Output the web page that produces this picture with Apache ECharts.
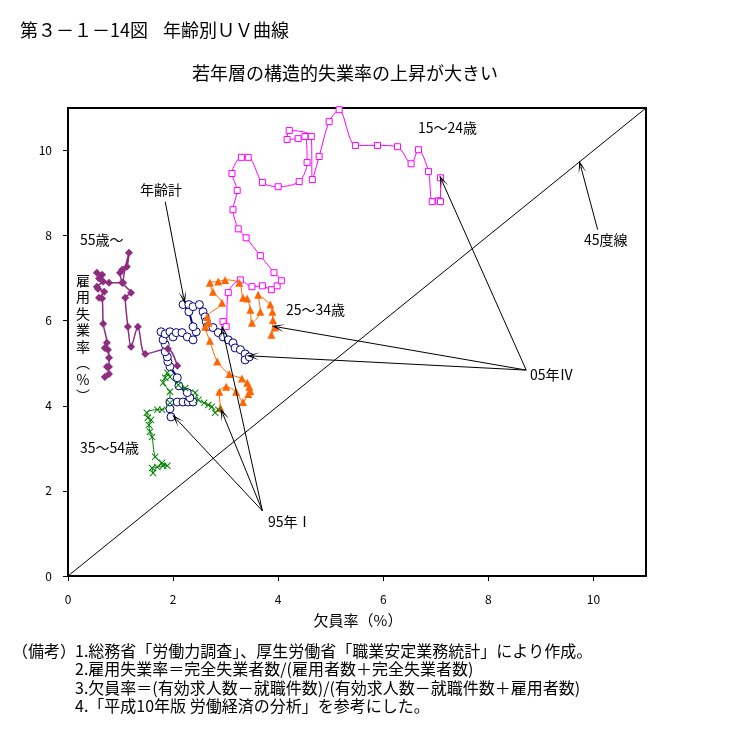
<!DOCTYPE html>
<html><head><meta charset="utf-8">
<script src="https://cdn.jsdelivr.net/npm/echarts/dist/echarts.min.js"></script>
<style>html,body{margin:0;padding:0;background:#fff}#c{width:734px;height:740px}</style>
</head><body><div id="c"></div>
<script>
// ---- data (x = 欠員率 %, y = 雇用失業率 %) ----
const axisTicks = [0, 2, 4, 6, 8, 10];
const line45 = [[0, 0], [11, 11]];
const total = [[1.96,3.74],[1.94,3.93],[1.94,4.09],[2.08,4.09],[2.19,4.09],[2.29,4.09],[2.38,4.09],[2.32,4.19],[2.27,4.31],[2.11,4.47],[2.08,4.66],[1.94,4.92],[1.90,5.04],[1.89,5.15],[1.85,5.27],[1.85,5.44],[1.81,5.55],[1.77,5.74],[1.85,5.69],[1.94,5.74],[2.00,5.62],[2.06,5.72],[2.17,5.72],[2.27,5.62],[2.38,5.55],[2.44,5.74],[2.38,5.86],[2.30,6.21],[2.19,6.38],[2.30,6.38],[2.38,6.33],[2.50,6.38],[2.57,6.21],[2.61,6.09],[2.63,5.98],[2.65,5.86],[2.76,5.84],[2.86,5.72],[2.95,5.62],[3.05,5.55],[3.14,5.48],[3.18,5.36],[3.28,5.32],[3.37,5.22],[3.37,5.08],[3.45,5.15]];
const age15_24 = [[2.95,5.98],[3.01,5.86],[3.05,6.66],[3.28,6.96],[3.50,6.80],[3.70,6.82],[3.87,6.73],[3.98,6.82],[4.06,6.94],[3.92,7.13],[3.66,7.53],[3.39,7.95],[3.24,8.16],[3.14,8.61],[3.22,9.06],[3.12,9.46],[3.30,9.84],[3.43,9.84],[3.70,9.25],[4.00,9.15],[4.40,9.27],[4.55,9.72],[4.51,10.33],[4.38,10.28],[4.17,10.26],[4.21,10.47],[4.63,10.33],[4.65,9.32],[4.78,9.86],[4.97,10.68],[5.16,10.96],[5.47,10.12],[5.89,10.12],[6.27,10.09],[6.53,9.69],[6.67,10.02],[6.86,9.51],[6.93,8.80],[7.05,8.82],[7.09,8.80],[7.09,9.36]];
const age25_34 = [[2.90,3.95],[2.88,4.33],[3.01,4.45],[3.20,4.33],[3.33,4.09],[3.43,4.28],[3.47,4.35],[3.45,4.45],[3.41,4.54],[3.31,4.64],[3.07,4.75],[2.84,5.04],[2.70,5.53],[2.61,5.86],[2.67,5.95],[2.65,6.09],[2.93,6.42],[2.76,6.68],[2.70,6.89],[2.86,6.92],[2.99,6.96],[3.26,6.89],[3.33,6.54],[3.41,6.52],[3.47,6.26],[3.50,5.95],[3.66,6.21],[3.62,6.61],[3.85,6.38],[3.89,6.21],[3.90,6.02],[3.87,5.67],[3.94,5.84]];
const age35_54 = [[1.62,2.42],[1.60,2.54],[1.70,2.56],[1.81,2.59],[1.89,2.59],[1.79,2.66],[1.66,2.80],[1.60,3.27],[1.56,3.39],[1.54,3.55],[1.58,3.67],[1.52,3.72],[1.50,3.84],[1.70,3.91],[1.79,3.91],[1.94,4.07],[1.94,4.33],[1.81,4.54],[1.85,4.66],[1.89,4.78],[1.94,4.68],[2.10,4.49],[2.23,4.42],[2.42,4.31],[2.48,4.14],[2.59,4.07],[2.67,4.02],[2.74,3.98],[2.80,3.84],[2.86,3.91]];
const age55 = [[0.70,4.68],[0.78,4.75],[0.74,4.92],[0.78,4.92],[0.78,5.13],[0.76,5.32],[0.70,5.36],[0.74,5.48],[0.67,5.93],[0.65,6.52],[0.59,6.54],[0.69,6.68],[0.57,6.75],[0.55,6.80],[0.67,6.92],[0.59,6.99],[0.65,7.08],[0.55,7.13],[0.78,6.89],[1.03,6.89],[0.99,7.13],[1.03,7.20],[1.12,7.27],[1.16,7.60],[1.05,6.89],[1.20,6.66],[1.09,6.54],[1.14,5.86],[1.20,5.39],[1.33,5.86],[1.47,5.22],[1.90,5.34],[2.08,4.94]];
// annotation arrows [from, to] in data units
const arrows = [
  [[10.08,8.14],[9.76,9.62]],
  [[1.85,8.80],[2.20,6.55]],
  [[8.72,4.84],[7.12,9.28]],
  [[8.72,4.84],[4.00,5.85]],
  [[8.72,4.84],[3.52,5.17]],
  [[3.70,1.53],[2.07,3.68]],
  [[3.70,1.53],[2.95,3.80]],
  [[3.70,1.53],[2.95,5.75]]
];

const FONT = '"Noto Sans CJK JP","Noto Sans",sans-serif';
const crossPath = 'path://M1,0 L5,4 L9,0 L10,1 L6,5 L10,9 L9,10 L5,6 L1,10 L0,9 L4,5 L0,1 Z';
const arrowPath = 'path://M5,0 L10,13 L5,5 L0,13 Z';

function curve(name, data, color, symbol, size, lw, hollow, bw) {
  return {
    name, type: 'line', data, smooth: 0.3, symbol, symbolSize: size,
    showAllSymbol: true, clip: false,
    lineStyle: { color, width: lw },
    itemStyle: hollow ? { color: '#fff', borderColor: color, borderWidth: bw || 1 } : { color, borderWidth: 0 },
    emphasis: { disabled: true }, z: 3
  };
}

const chart = echarts.init(document.getElementById('c'), null, { renderer: 'canvas' });
const axisCommon = {
  type: 'value', min: 0, max: 11, interval: 2,
  axisLine: { show: true, lineStyle: { color: '#000', width: 2 } },
  axisTick: { show: true, length: 5, inside: false, lineStyle: { color: '#000', width: 1 } },
  splitLine: { show: false },
  axisLabel: { color: '#000', fontSize: 12, fontFamily: FONT, showMaxLabel: false,
    formatter: v => axisTicks.includes(v) ? String(v) : '' }
};
function txt(text, x, y, size, align, extra) {
  return Object.assign({ type: 'text', x, y, silent: true,
    style: { text, fill: '#000', font: size + 'px ' + FONT, align: align || 'left', verticalAlign: 'middle' } }, extra || {});
}
chart.setOption({
  animation: false,
  backgroundColor: '#fff',
  grid: { left: 68, right: 88, top: 108, bottom: 164, show: true, borderColor: '#000', borderWidth: 2, backgroundColor: 'transparent' },
  xAxis: Object.assign({}, axisCommon, { axisLabel: Object.assign({}, axisCommon.axisLabel, { margin: 17 }) }),
  yAxis: Object.assign({}, axisCommon, { axisLabel: Object.assign({}, axisCommon.axisLabel, { margin: 16 }) }),
  series: [
    { name: '45度線', type: 'line', data: line45, symbol: 'none', lineStyle: { color: '#000', width: 1 }, z: 2,
      markLine: { silent: true, animation: false, symbol: ['none', arrowPath], symbolSize: [8, 13],
        lineStyle: { color: '#000', width: 1, type: 'solid' }, label: { show: false }, emphasis: { disabled: true },
        data: arrows.map(a => [{ coord: a[0] }, { coord: a[1] }]) } },
    curve('年齢計', total, '#000080', 'circle', 8, 2, true, 1),
    curve('15～24歳', age15_24, '#FF00FF', 'rect', 6, 1, true, 1),
    curve('25～34歳', age25_34, '#FF6600', 'triangle', 8, 1, false),
    curve('35～54歳', age35_54, '#008000', crossPath, 7, 1, false),
    curve('55歳～', age55, '#8E2C80', 'diamond', 8, 1.5, false)
  ],
  graphic: [
    txt('第３－１－14図', 20, 30, 18),
    txt('年齢別ＵＶ曲線', 163, 30, 18),
    txt('若年層の構造的失業率の上昇が大きい', 345, 73, 18, 'center'),
    txt('15～24歳', 418, 128, 14),
    txt('45度線', 584, 240, 14),
    txt('年齢計', 140, 190, 14),
    txt('55歳～', 80, 240, 14),
    txt('25～34歳', 286, 310, 14),
    txt('35～54歳', 80, 448, 14),
    txt('05年Ⅳ', 530, 375, 14),
    txt('95年Ⅰ', 268, 522, 14),
    txt('欠員率（%）', 358, 620, 15, 'center'),
    { type: 'text', x: 83, y: 338, silent: true,
      style: { text: '雇\n用\n失\n業\n率\n︵\n%\n︶', fill: '#000', font: '14px ' + FONT, align: 'center', verticalAlign: 'middle', lineHeight: 16.5 } },
    txt('（備考）', 12, 651, 16),
    txt('1.総務省「労働力調査」、厚生労働省「職業安定業務統計」により作成。', 75, 651, 16),
    txt('2.雇用失業率＝完全失業者数/(雇用者数＋完全失業者数)', 75, 669, 16),
    txt('3.欠員率＝(有効求人数－就職件数)/(有効求人数－就職件数＋雇用者数)', 75, 688, 16),
    txt('4.「平成10年版 労働経済の分析」を参考にした。', 75, 706, 16)
  ]
});
</script></body></html>
